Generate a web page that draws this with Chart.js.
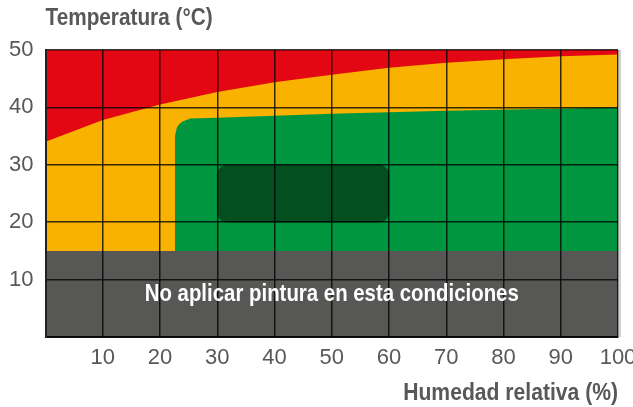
<!DOCTYPE html>
<html>
<head>
<meta charset="utf-8">
<script src="https://cdn.jsdelivr.net/npm/chart.js@4.4.0/dist/chart.umd.min.js"></script>
<style>
  html, body { margin: 0; padding: 0; background: #fff; }
  #wrap { width: 633px; height: 407px; position: relative; }
</style>
</head>
<body>
<div id="wrap"><canvas id="paintChart"></canvas></div>
<script>
// humedad relativa (%) y limites de temperatura (°C)
const humidity = [0, 10, 20, 30, 40, 50, 60, 70, 80, 90, 100];
const maxTemp = [34, 37.8, 40.5, 42.7, 44.4, 45.7, 46.9, 47.8, 48.4, 48.9, 49.2];
const topTemp = 50;
const minTemp = 15;

// borde de la zona verde (con la esquina redondeada)
const goodHumidity = [22.6, 22.6, 22.96, 23.39, 23.95, 25.3, 30, 50, 70, 100];
const goodTemp = [15, 35.0, 36.55, 37.11, 37.54, 38.06, 38.2, 38.9, 39.4, 40];

// zona optima
const bestHumidity = [30, 60];
const bestTemp = [20, 30];

const xTicks = [10, 20, 30, 40, 50, 60, 70, 80, 90, 100];
const yTicks = [10, 20, 30, 40, 50];

const noteText = 'No aplicar pintura en esta condiciones';
const yTitle = 'Temperatura (°C)';
const xTitle = 'Humedad relativa (%)';

const pts = (xs, ys) => xs.map((x, i) => ({ x: x, y: Array.isArray(ys) ? ys[i] : ys }));

const sans = "'Liberation Sans', Arial, sans-serif";
const grey = '#58585a';
const gridColor = 'rgba(0,0,0,0.78)';

function area(data, color, order) {
    return {
        type: 'line', data: data, order: order,
        backgroundColor: color, borderWidth: 0, pointRadius: 0,
        fill: 'origin', tension: 0
    };
}

// texto condensado (la fuente original es una Helvetica condensada)
function narrowText(ctx, text, x, y, align, squeeze) {
    ctx.save();
    ctx.translate(x, y);
    ctx.scale(squeeze, 1);
    ctx.textAlign = align;
    ctx.fillText(text, 0, 0);
    ctx.restore();
}

const overlayText = {
    id: 'overlayText',
    beforeDatasetsDraw(c) {
        // sombra gris clara al lado derecho del grafico
        const ctx = c.ctx, a = c.chartArea;
        ctx.save();
        ctx.strokeStyle = '#cfcfcf';
        ctx.lineWidth = 2;
        ctx.beginPath();
        ctx.moveTo(a.right + 2, a.top);
        ctx.lineTo(a.right + 2, a.bottom);
        ctx.stroke();
        ctx.restore();
    },
    afterDraw(c) {
        const ctx = c.ctx, x = c.scales.x, y = c.scales.y, a = c.chartArea;
        ctx.save();
        ctx.textBaseline = 'alphabetic';
        ctx.font = "bold 24px " + sans;
        ctx.fillStyle = '#fff';
        narrowText(ctx, noteText, x.getPixelForValue(50), y.getPixelForValue(6.35), 'center', 0.85);
        ctx.fillStyle = grey;
        narrowText(ctx, yTitle, a.left, 25, 'left', 0.865);
        narrowText(ctx, xTitle, a.right, 400, 'right', 0.88);
        ctx.restore();
    }
};

function initChart() {
    const ctx = document.getElementById('paintChart').getContext('2d');
    new Chart(ctx, {
        type: 'line',
        data: {
            datasets: [
                area(pts([0, 100], topTemp), '#e30613', 5),
                area(pts(humidity, maxTemp), '#f9b200', 4),
                area(pts(goodHumidity, goodTemp), '#009640', 3),
                {
                    type: 'bar', indexAxis: 'y', order: 2,
                    data: [{ y: (bestTemp[0] + bestTemp[1]) / 2, x: bestHumidity }],
                    backgroundColor: '#034f1f', borderWidth: 0,
                    borderRadius: 11, borderSkipped: false,
                    categoryPercentage: 1, barPercentage: 1
                },
                area(pts([0, 100], minTemp), '#575756', 1)
            ]
        },
        options: {
            responsive: true, maintainAspectRatio: false, animation: false,
            layout: { padding: { top: 50, right: 15, left: 0, bottom: 0 } },
            plugins: { legend: { display: false }, tooltip: { enabled: false } },
            scales: {
                x: {
                    type: 'linear', min: 0, max: 100, offset: false,
                    afterBuildTicks: s => { s.ticks = [0].concat(xTicks).map(v => ({ value: v })); },
                    afterFit: s => { s.height = 70; s.paddingLeft = 0; s.paddingRight = 0; },
                    grid: { color: gridColor, lineWidth: 1.5, drawTicks: false, offset: false, z: 1 },
                    border: { color: '#222', width: 2, z: 1 },
                    ticks: {
                        padding: 8, color: grey, font: { family: sans, size: 22 },
                        callback: v => v === 0 ? '' : v
                    }
                },
                y: {
                    type: 'linear', min: 0, max: 50, offset: false,
                    afterBuildTicks: s => { s.ticks = [0].concat(yTicks).map(v => ({ value: v })); },
                    afterFit: s => { s.width = 45.5; s.paddingTop = 0; s.paddingBottom = 0; },
                    grid: { color: gridColor, lineWidth: 1.5, drawTicks: false, offset: false, z: 1 },
                    border: { color: '#222', width: 2, z: 1 },
                    ticks: {
                        padding: 12, color: grey, font: { family: sans, size: 22 },
                        callback: v => v === 0 ? '' : v
                    }
                }
            }
        },
        plugins: [overlayText]
    });
}

window.onload = initChart;
</script>
</body>
</html>
